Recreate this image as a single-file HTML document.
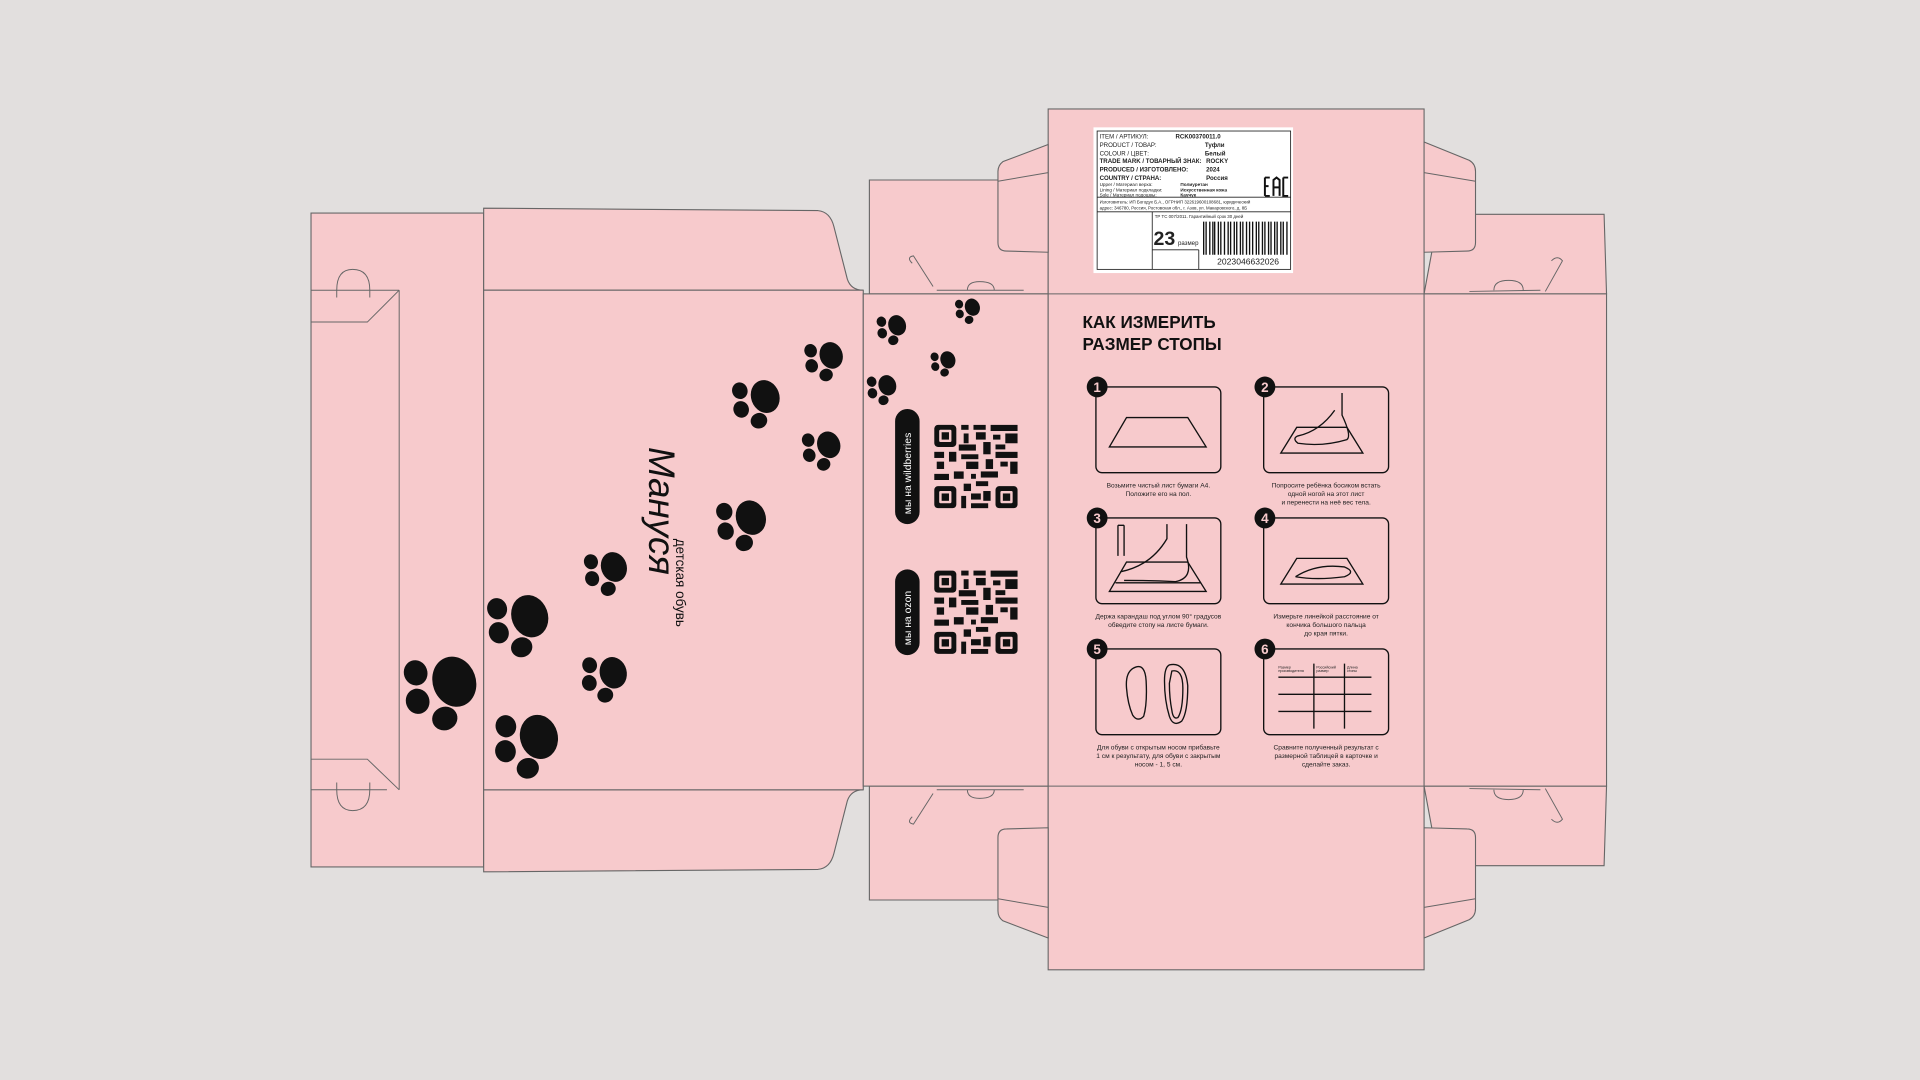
<!DOCTYPE html>
<html><head><meta charset="utf-8"><style>
html,body{margin:0;padding:0;background:#e2dfde;}
svg{display:block;}
text{font-family:"Liberation Sans","DejaVu Sans",sans-serif;}
</style></head><body>
<svg width="1920" height="1080" viewBox="0 0 1568 882" xmlns="http://www.w3.org/2000/svg">
<defs>
<g id="paw">
 <ellipse cx="6" cy="0" rx="11" ry="13"/>
 <ellipse cx="-11" cy="-11" rx="6" ry="6.5"/>
 <ellipse cx="-15" cy="3" rx="6" ry="6.5"/>
 <ellipse cx="-5" cy="16" rx="6.5" ry="6"/>
</g>
<g id="qr" fill="#111">
 <rect x="0" y="0" width="18" height="18" rx="3"/><rect x="4" y="4" width="10" height="10" fill="#f7cacc" rx="1"/><rect x="6" y="6" width="6" height="6"/>
 <rect x="0" y="50" width="18" height="18" rx="3"/><rect x="4" y="54" width="10" height="10" fill="#f7cacc" rx="1"/><rect x="6" y="56" width="6" height="6"/>
 <rect x="50" y="50" width="18" height="18" rx="3"/><rect x="54" y="54" width="10" height="10" fill="#f7cacc" rx="1"/><rect x="56" y="56" width="6" height="6"/>
 <rect x="22" y="0" width="6" height="4"/><rect x="32" y="0" width="10" height="4"/><rect x="46" y="0" width="22" height="5"/>
 <rect x="24" y="7" width="4" height="8"/><rect x="34" y="6" width="8" height="6"/><rect x="48" y="8" width="6" height="4"/><rect x="58" y="7" width="10" height="8"/>
 <rect x="20" y="16" width="14" height="5"/><rect x="40" y="14" width="6" height="10"/><rect x="50" y="16" width="8" height="4"/>
 <rect x="0" y="22" width="8" height="5"/><rect x="12" y="22" width="6" height="8"/><rect x="22" y="24" width="14" height="4"/><rect x="50" y="22" width="18" height="5"/>
 <rect x="2" y="30" width="6" height="6"/><rect x="26" y="30" width="10" height="6"/><rect x="42" y="28" width="6" height="8"/><rect x="54" y="30" width="6" height="4"/><rect x="62" y="30" width="6" height="10"/>
 <rect x="0" y="40" width="12" height="5"/><rect x="16" y="38" width="8" height="6"/><rect x="30" y="40" width="4" height="4"/><rect x="38" y="38" width="14" height="5"/>
 <rect x="24" y="48" width="6" height="6"/><rect x="34" y="46" width="10" height="4"/><rect x="22" y="58" width="4" height="10"/><rect x="30" y="56" width="8" height="5"/><rect x="40" y="54" width="6" height="8"/><rect x="30" y="64" width="14" height="4"/>
</g>
</defs>
<rect width="1568" height="882" fill="#e2dfde"/>
<g fill="#f7cacc" stroke="#666" stroke-width="0.9">
 <rect x="254" y="174" width="141" height="534"/>
 <path d="M395,170 L668,172 Q678,173 681,185 L692,228 Q695,237 705,237 L395,237 Z"/>
 <path d="M395,712 L668,710 Q678,709 681,697 L692,654 Q695,645 705,645 L395,645 Z"/>
 <rect x="395" y="237" width="310" height="408"/>
 <path d="M710,147 L856,147 L856,240 L710,240 Z"/>
 <path d="M710,735 L856,735 L856,642 L710,642 Z"/>
 <rect x="705" y="240" width="151" height="402"/>
 <rect x="856" y="89" width="307" height="703"/>
 <path d="M1175,175 L1310,175 L1312,240 L1163,240 Z"/>
 <path d="M1175,707 L1310,707 L1312,642 L1163,642 Z"/>
 <rect x="1163" y="240" width="149" height="402"/>
 <!-- side tabs on top -->
 <path d="M856,118 L819,132 Q815,135 815,140 L815,198 Q815,205 822,205 L856,206 Z"/>
 <path d="M856,766 L819,752 Q815,749 815,744 L815,684 Q815,677 822,677 L856,676 Z"/>
 <path d="M1163,116 L1200,131 Q1205,134 1205,140 L1205,198 Q1205,205 1198,205 L1163,206 Z"/>
 <path d="M1163,766 L1200,751 Q1205,748 1205,742 L1205,684 Q1205,677 1198,677 L1163,676 Z"/>
</g>
<g fill="none" stroke="#666" stroke-width="0.8">
 <path d="M815,148 L856,141 M815,734 L856,741 M1163,141 L1205,148 M1163,741 L1205,734"/>
 <line x1="326" y1="237" x2="326" y2="645"/>
 <path d="M254,237 L326,237 M254,263 L300,263 L326,237"/>
 <path d="M254,645 L316,645 M254,620 L300,620 L326,645"/>
 <path d="M275,237 Q275,220 288,220 Q302,220 302,237"/><path d="M275,237 L275,243 M302,237 L302,243"/>
 <path d="M275,645 Q275,662 288,662 Q302,662 302,645"/><path d="M275,645 L275,639 M302,645 L302,639"/>
 <path d="M745,215 Q740,210 746,209 L762,234 M790,237 Q790,230 800,230 Q812,230 812,237 M765,237 L836,237"/>
 <path d="M745,667 Q740,672 746,673 L762,648 M790,645 Q790,652 800,652 Q812,652 812,645 M765,645 L836,645"/>
 <path d="M1267,213 Q1272,208 1276,213 L1262,238 M1220,237 Q1220,229 1232,229 Q1244,229 1244,237 M1200,238 L1258,237"/>
 <path d="M1267,669 Q1272,674 1276,669 L1262,644 M1220,645 Q1220,653 1232,653 Q1244,653 1244,645 M1200,644 L1258,645"/>
 <line x1="856" y1="240" x2="1163" y2="240"/><line x1="856" y1="642" x2="1163" y2="642"/>
</g>
<g fill="#111">
 <use href="#paw" transform="translate(362,560) scale(1.6) rotate(-20)"/>
 <use href="#paw" transform="translate(432,604) scale(1.4) rotate(-15)"/>
 <use href="#paw" transform="translate(425,506) scale(1.35) rotate(-20)"/>
 <use href="#paw" transform="translate(495,551) scale(1.0) rotate(-15)"/>
 <use href="#paw" transform="translate(496,465) scale(0.95) rotate(-20)"/>
 <use href="#paw" transform="translate(607,425) scale(1.1) rotate(-20)"/>
 <use href="#paw" transform="translate(619,326) scale(1.05) rotate(-20)"/>
 <use href="#paw" transform="translate(672,365) scale(0.85) rotate(-20)"/>
 <use href="#paw" transform="translate(674,292) scale(0.85) rotate(-20)"/>
 <use href="#paw" transform="translate(729,267) scale(0.65) rotate(-20)"/>
 <use href="#paw" transform="translate(791,252) scale(0.55) rotate(-20)"/>
 <use href="#paw" transform="translate(771,295) scale(0.55) rotate(-20)"/>
 <use href="#paw" transform="translate(721,316) scale(0.65) rotate(-20)"/>
</g>
<g transform="translate(528,440) rotate(90)">
 <text x="-75" y="-2" font-family="Liberation Serif,serif" font-style="italic" font-size="30" fill="#111">Мануся</text>
 <text x="0" y="-24" font-size="11" fill="#111">детская обувь</text>
</g>
<rect x="731" y="334" width="20" height="94" rx="10" fill="#111"/>
<rect x="731" y="465" width="20" height="70" rx="10" fill="#111"/>
<text transform="translate(744,420) rotate(-90)" font-size="8.5" fill="#fff">мы на wildberries</text>
<text transform="translate(744,527) rotate(-90)" font-size="8.5" fill="#fff">мы на ozon</text>
<use href="#qr" x="763" y="347"/>
<use href="#qr" x="763" y="466"/>
<rect x="893" y="104" width="163" height="119" fill="#fff"/>
<g fill="none" stroke="#222" stroke-width="0.7">
 <rect x="896" y="107" width="158" height="113"/>
 <line x1="896" y1="161" x2="1054" y2="161"/><line x1="896" y1="173" x2="1054" y2="173"/>
 <line x1="941" y1="173" x2="941" y2="220"/><line x1="941" y1="204" x2="979" y2="204"/><line x1="979" y1="204" x2="979" y2="220"/>
</g>
<g font-size="5" fill="#222">
 <text x="898" y="113">ITEM / АРТИКУЛ:</text><text x="960" y="113" font-weight="bold">RCK00370011.0</text>
 <text x="898" y="120">PRODUCT / ТОВАР:</text><text x="984" y="120" font-weight="bold">Туфли</text>
 <text x="898" y="127">COLOUR / ЦВЕТ:</text><text x="984" y="127" font-weight="bold">Белый</text>
 <text x="898" y="133" font-weight="bold">TRADE MARK / ТОВАРНЫЙ ЗНАК:</text><text x="985" y="133" font-weight="bold">ROCKY</text>
 <text x="898" y="140" font-weight="bold">PRODUCED / ИЗГОТОВЛЕНО:</text><text x="985" y="140" font-weight="bold">2024</text>
 <text x="898" y="147" font-weight="bold">COUNTRY / СТРАНА:</text><text x="985" y="147" font-weight="bold">Россия</text>
 <text x="898" y="152" font-size="3.8">Upper / Материал верха:</text><text x="964" y="152" font-size="3.8" font-weight="bold">Полиуретан</text>
 <text x="898" y="156.5" font-size="3.8">Lining / Материал подкладки:</text><text x="964" y="156.5" font-size="3.8" font-weight="bold">Искусственная кожа</text>
 <text x="898" y="160.5" font-size="3.8">Sole / Материал подошвы:</text><text x="964" y="160.5" font-size="3.8" font-weight="bold">Каучук</text>
 <text x="898" y="166" font-size="3.6">Изготовитель: ИП Богодух Б.А., ОГРНИП 322619600108681, юридический</text>
 <text x="898" y="171" font-size="3.6">адрес: 346780, Россия, Ростовская обл., г. Азов, ул. Макаровского, д. 8Б</text>
 <text x="943" y="178" font-size="3.6">ТР ТС 007/2011. Гарантийный срок 30 дней</text>
 <text x="942" y="200" font-size="16" font-weight="bold">23</text><text x="962" y="200" font-size="5">размер</text>
 <text x="994" y="216" font-size="7">2023046632026</text>
</g>
<g stroke="#111" stroke-width="1.1">
 <path d="M983,181v27 M985,181v27 M988,181v27 M990.5,181v27 M992,181v27 M995,181v27 M997,181v27 M1000,181v27 M1003,181v27 M1005,181v27 M1008,181v27 M1010,181v27 M1013,181v27 M1015,181v27 M1018,181v27 M1020.5,181v27 M1023,181v27 M1026,181v27 M1028,181v27 M1031,181v27 M1033,181v27 M1036,181v27 M1038,181v27 M1041,181v27 M1043,181v27 M1046,181v27 M1048,181v27 M1051,181v27"/>
</g>
<g stroke="#111" stroke-width="1.6" fill="none">
 <path d="M1033,145 v15 M1033,145 h4 M1033,152 h3 M1033,160 h4 M1040,160 v-13 l2.5,-2 l2.5,2 v13 M1040,153 h5 M1048,145 h4 M1048,145 v15 h4"/>
</g>
<text x="884" y="268" font-size="14" font-weight="bold" fill="#111">КАК ИЗМЕРИТЬ</text>
<text x="884" y="286" font-size="14" font-weight="bold" fill="#111">РАЗМЕР СТОПЫ</text>
<g fill="none" stroke="#111" stroke-width="1.1">
 <rect x="895" y="316" width="102" height="70" rx="5"/>
 <rect x="1032" y="316" width="102" height="70" rx="5"/>
 <rect x="895" y="423" width="102" height="70" rx="5"/>
 <rect x="1032" y="423" width="102" height="70" rx="5"/>
 <rect x="895" y="530" width="102" height="70" rx="5"/>
 <rect x="1032" y="530" width="102" height="70" rx="5"/>
 <path d="M920,341 L970,341 L985,365 L906,365 Z"/>
 <path d="M1059,349 L1100,349 L1113,370 L1046,370 Z"/>
 <path d="M1096,321 L1096,339 Q1104,356 1100,359 Q1080,365 1060,362 Q1055,358 1060,356 Q1078,352 1090,335"/>
 <path d="M920,459 L970,459 L985,483 L906,483 Z M911,476 L981,476"/>
 <path d="M953,428 L953,440 Q940,462 915,467 M969,428 L969,455 Q975,472 960,475 Q940,474 918,474"/>
 <path d="M913,429 v25 M918,429 v25 M913,429 h5"/>
 <path d="M1059,456 L1100,456 L1113,477 L1046,477 Z M1058,471 Q1075,460 1098,463 Q1108,467 1098,471 Q1075,474 1058,471"/>
 <path d="M925,546 Q935,540 936,556 Q937,575 934,585 Q929,590 925,584 Q921,575 920,562 Q919,550 925,546 Z"/>
 <path d="M955,543 Q968,540 970,560 Q970,582 965,589 Q958,594 955,585 Q951,572 951,556 Q951,545 955,543 Z M957,548 Q966,546 966,562 Q966,580 962,586 Q958,588 957,580 Q955,570 955,558 Z"/>
 <path d="M1044,553 h76 M1044,567 h76 M1044,581 h76 M1073,542 v53 M1098,542 v53"/>
</g>
<g fill="#111">
 <circle cx="896" cy="316" r="8.5"/><circle cx="1033" cy="316" r="8.5"/>
 <circle cx="896" cy="423" r="8.5"/><circle cx="1033" cy="423" r="8.5"/>
 <circle cx="896" cy="530" r="8.5"/><circle cx="1033" cy="530" r="8.5"/>
</g>
<g fill="#f7cacc" font-size="11" font-weight="bold" text-anchor="middle">
 <text x="896" y="320">1</text><text x="1033" y="320">2</text>
 <text x="896" y="427">3</text><text x="1033" y="427">4</text>
 <text x="896" y="534">5</text><text x="1033" y="534">6</text>
</g>
<g font-size="5.4" fill="#222" text-anchor="middle">
 <text x="946" y="398">Возьмите чистый лист бумаги А4.</text><text x="946" y="405">Положите его на пол.</text>
 <text x="1083" y="398">Попросите ребёнка босиком встать</text><text x="1083" y="405">одной ногой на этот лист</text><text x="1083" y="412">и перенести на неё вес тела.</text>
 <text x="946" y="505">Держа карандаш под углом 90° градусов</text><text x="946" y="512">обведите стопу на листе бумаги.</text>
 <text x="1083" y="505">Измерьте линейкой расстояние от</text><text x="1083" y="512">кончика большого пальца</text><text x="1083" y="519">до края пятки.</text>
 <text x="946" y="612">Для обуви с открытым носом прибавьте</text><text x="946" y="619">1 см к результату, для обуви с закрытым</text><text x="946" y="626">носом - 1, 5 см.</text>
 <text x="1083" y="612">Сравните полученный результат с</text><text x="1083" y="619">размерной таблицей в карточке и</text><text x="1083" y="626">сделайте заказ.</text>
</g>
<g font-size="3" fill="#222">
 <text x="1044" y="546">Размер</text><text x="1044" y="549">производителя</text>
 <text x="1075" y="546">Российский</text><text x="1075" y="549">размер</text>
 <text x="1100" y="546">Длина</text><text x="1100" y="549">стопы</text>
</g>
</svg>
</body></html>
